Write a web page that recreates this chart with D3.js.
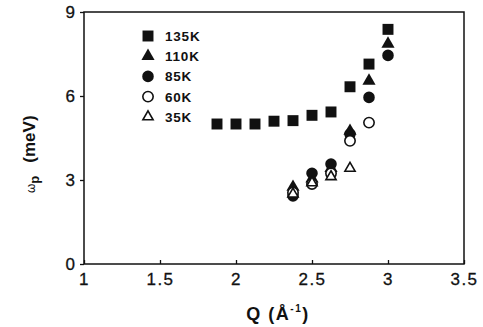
<!DOCTYPE html>
<html>
<head>
<meta charset="utf-8">
<script src="https://cdn.jsdelivr.net/npm/d3@7"></script>
<style>
  body { margin: 0; background: #fff; }
  svg { display: block; font-family: 'Liberation Sans', Arial, sans-serif; }
</style>
</head>
<body>
<svg id="chart" width="483" height="327"></svg>
<script>
const qValues = [1.875, 2.0, 2.125, 2.25, 2.375, 2.5, 2.625, 2.75, 2.875, 3.0];
const q135 = [5.0, 5.0, 5.0, 5.1, 5.12, 5.31, 5.43, 6.33, 7.14, 8.38];
const qLow = [2.375, 2.5, 2.625, 2.75, 2.875, 3.0];
const w110 = [2.75, 3.05, 3.42, 4.75, 6.54, 7.86];
const w85 = [2.43, 3.24, 3.57, 4.64, 5.95, 7.45];
const w60 = [2.55, 2.86, 3.24, 4.4, 5.05];
const w35 = [2.5, 2.9, 3.12, 3.42];
const xTicks = [1, 1.5, 2, 2.5, 3, 3.5];
const yTicks = [0, 3, 6, 9];

const series = [
  { label: '135K', q: qValues, w: q135, shape: 'square', filled: true },
  { label: '110K', q: qLow, w: w110, shape: 'triangle', filled: true },
  { label: '85K', q: qLow, w: w85, shape: 'circle', filled: true },
  { label: '60K', q: qLow, w: w60, shape: 'circle', filled: false },
  { label: '35K', q: qLow, w: w35, shape: 'triangle', filled: false }
];

const margin = { top: 12, right: 19, bottom: 63, left: 84 };
const totalWidth = 483;
const totalHeight = 327;
const width = totalWidth - margin.left - margin.right;
const height = totalHeight - margin.top - margin.bottom;

const svg = d3.select('#chart');
const g = svg.append('g').attr('transform', `translate(${margin.left}, ${margin.top})`);

const xScale = d3.scaleLinear([1, 3.5], [0, width]);
const yScale = d3.scaleLinear([0, 9], [height, 0]);

const symbolTypes = {
  square: d3.symbolSquare,
  triangle: d3.symbolTriangle,
  circle: d3.symbolCircle
};
const symbolSizes = { square: 120, triangle: 75, circle: 105 };
function symbolPath(shape, filled) {
  const size = filled ? symbolSizes[shape] : symbolSizes[shape] * (shape === 'triangle' ? 0.6 : 0.8);
  return d3.symbol(symbolTypes[shape], size)();
}

/* frame */
g.append('rect')
  .attr('x', 0)
  .attr('y', 0)
  .attr('width', width)
  .attr('height', height)
  .attr('fill', 'none')
  .attr('stroke', '#111')
  .attr('stroke-width', 1.5);

/* bottom axis */
const bottomAxis = d3.axisBottom(xScale)
  .tickValues(xTicks)
  .tickSize(-4)
  .tickPadding(9)
  .tickFormat(d3.format('~g'));
g.append('g')
  .attr('transform', `translate(0, ${height})`)
  .call(bottomAxis)
  .call(a => a.select('.domain').remove())
  .call(a => a.selectAll('line').attr('stroke', '#111').attr('stroke-width', 1.3))
  .call(a => a.selectAll('text')
    .attr('font-size', 17)
    .attr('fill', '#111')
    .attr('stroke', '#111')
    .attr('stroke-width', 0.3)
    .attr('letter-spacing', 1.5)
    .attr('font-family', "'Liberation Sans', Arial, sans-serif"));

/* left axis */
const leftAxis = d3.axisLeft(yScale)
  .tickValues(yTicks)
  .tickSize(4)
  .tickPadding(5);
g.append('g')
  .call(leftAxis)
  .call(a => a.select('.domain').remove())
  .call(a => a.selectAll('line').attr('stroke', '#111').attr('stroke-width', 1.3))
  .call(a => a.selectAll('text')
    .attr('font-size', 17)
    .attr('fill', '#111')
    .attr('stroke', '#111')
    .attr('stroke-width', 0.3)
    .attr('font-family', "'Liberation Sans', Arial, sans-serif"));

/* axis titles */
const xTitle = svg.append('text')
  .attr('x', 278)
  .attr('y', 320)
  .attr('text-anchor', 'middle')
  .attr('font-size', 18)
  .attr('font-weight', 'bold')
  .attr('letter-spacing', 1.5)
  .attr('fill', '#111');
xTitle.append('tspan').text('Q (Å');
xTitle.append('tspan').attr('dy', -8).attr('font-size', 10).text('-1');
xTitle.append('tspan').attr('dy', 8).text(')');

const yTitle = svg.append('text')
  .attr('transform', `translate(35, 193) rotate(-90)`)
  .attr('text-anchor', 'start')
  .attr('fill', '#111');
yTitle.append('tspan').attr('font-size', 12).text('ω');
yTitle.append('tspan').attr('font-size', 13).attr('font-weight', 'bold').attr('dy', 4).text('p');
yTitle.append('tspan').attr('font-size', 17).attr('font-weight', 'bold').attr('dy', -4).attr('dx', 13).text('(meV)');

/* data points */
series.forEach(function (s) {
  const pts = s.w.map((w, i) => ({ q: s.q[i], w: w }));
  g.append('g')
    .selectAll('path')
    .data(pts)
    .enter()
    .append('path')
    .attr('d', symbolPath(s.shape, s.filled))
    .attr('transform', d => `translate(${xScale(d.q)}, ${yScale(d.w)})`)
    .attr('fill', s.filled ? '#111' : '#fff')
    .attr('stroke', '#111')
    .attr('stroke-width', s.filled ? 0 : 1.6);
});

/* legend */
const legend = g.append('g').attr('transform', `translate(${148 - margin.left}, ${36 - margin.top})`);
series.forEach(function (s, i) {
  const row = legend.append('g').attr('transform', `translate(0, ${i * 20.2})`);
  row.append('path')
    .attr('d', symbolPath(s.shape, s.filled))
    .attr('fill', s.filled ? '#111' : '#fff')
    .attr('stroke', '#111')
    .attr('stroke-width', s.filled ? 0 : 1.6);
  row.append('text')
    .attr('x', 17)
    .attr('y', 5)
    .attr('font-size', 13.5)
    .attr('font-weight', 'bold')
    .attr('letter-spacing', 0.8)
    .attr('fill', '#111')
    .text(s.label);
});
</script>
</body>
</html>
